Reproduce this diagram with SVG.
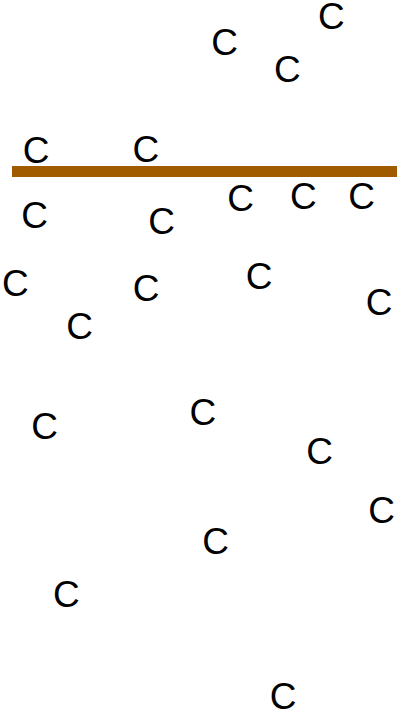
<svg xmlns="http://www.w3.org/2000/svg" width="404" height="714" viewBox="0 0 404 714">
<style>
text{font-family:"Liberation Sans",Arial,sans-serif;font-size:37px;fill:#000;text-anchor:middle}
</style>
<rect width="404" height="714" fill="#fff"/>
<rect id="bar" x="12" y="166" width="385" height="11" fill="#A05A00"/>
<g id="letters">
<text x="331.3" y="29">C</text>
<text x="224.7" y="55">C</text>
<text x="287.3" y="82">C</text>
<text x="36.2" y="162.5">C</text>
<text x="145.8" y="162">C</text>
<text x="240.7" y="210.5">C</text>
<text x="303.3" y="208.5">C</text>
<text x="361.5" y="208.5">C</text>
<text x="34.7" y="228">C</text>
<text x="161.5" y="233.5">C</text>
<text x="15.3" y="296">C</text>
<text x="146" y="301">C</text>
<text x="259" y="288.5">C</text>
<text x="379" y="315">C</text>
<text x="79.7" y="339">C</text>
<text x="44.7" y="438.5">C</text>
<text x="202.8" y="425">C</text>
<text x="319.7" y="464">C</text>
<text x="381.7" y="522.5">C</text>
<text x="215.5" y="553.5">C</text>
<text x="66.3" y="607">C</text>
<text x="283.2" y="709">C</text>
</g>
</svg>
